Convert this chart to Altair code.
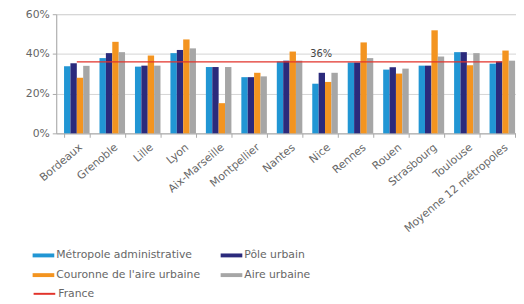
import altair as alt
import pandas as pd

cities = ["Bordeaux", "Grenoble", "Lille", "Lyon", "Aix-Marseille", "Montpellier",
          "Nantes", "Nice", "Rennes", "Rouen", "Strasbourg", "Toulouse",
          "Moyenne 12 métropoles"]
series = ["Métropole administrative", "Pôle urbain", "Couronne de l'aire urbaine", "Aire urbaine"]
metropole = [33.8, 37.9, 33.6, 40.4, 33.4, 28.3, 36.2, 25.0, 35.7, 32.1, 34.1, 40.9, 35.1]
pole =      [35.3, 40.4, 34.1, 42.0, 33.4, 28.3, 36.6, 30.5, 35.7, 33.3, 34.1, 40.9, 36.2]
couronne =  [28.0, 46.1, 39.2, 47.3, 15.2, 30.5, 41.2, 25.9, 45.8, 30.1, 51.9, 34.3, 41.7]
aire =      [34.0, 40.9, 34.1, 42.8, 33.4, 28.7, 36.6, 30.5, 37.9, 32.6, 38.7, 40.4, 36.6]
france = 36
colors = ["#2196d4", "#2b2a7c", "#f39420", "#a6a6a6"]
font = "DejaVu Sans"
txtcol = "#666"

rows = []
for s, vals in zip(series, [metropole, pole, couronne, aire]):
    for c, v in zip(cities, vals):
        rows.append({"city": c, "series": s, "value": v})
bars_df = pd.DataFrame(rows)
line_df = pd.DataFrame({"city": cities, "value": [france] * len(cities), "label": ["France"] * len(cities)})
text_df = pd.DataFrame({"city": ["Nice"], "value": [france], "txt": ["36%"]})

xscale = alt.Scale(domain=cities, range=[0, 474], paddingInner=0.28, paddingOuter=0.22)
yscale = alt.Scale(domain=[0, 60])

xaxis = alt.Axis(title=None, labelAngle=-40, labelFont=font, labelFontSize=11, labelColor=txtcol,
                 tickBand="extent", tickSize=4, tickColor="#aaa", domainColor="#aaa",
                 labelPadding=4, grid=False, labelOverlap=False)
yaxis = alt.Axis(title=None, values=[0, 10, 20, 30, 40, 50, 60], labelExpr="datum.value + '%'",
                 labelFont=font, labelFontSize=11, labelColor=txtcol, tickSize=4, tickColor="#aaa",
                 domainColor="#aaa", gridColor="#d4d4d4", labelPadding=3)

bars = alt.Chart(bars_df).mark_bar().encode(
    x=alt.X("city:N", scale=xscale, axis=xaxis, sort=cities),
    xOffset=alt.XOffset("series:N", sort=series, scale=alt.Scale(paddingInner=0, paddingOuter=0)),
    y=alt.Y("value:Q", scale=yscale, axis=yaxis),
    color=alt.Color("series:N", sort=series,
                    scale=alt.Scale(domain=series, range=colors),
                    legend=alt.Legend(title=None, orient="none", legendX=-24, legendY=234,
                                      direction="horizontal",
                                      columns=2, columnPadding=20, rowPadding=4,
                                      symbolType="M-1,-0.18H1V0.18H-1Z", symbolSize=484,
                                      symbolStrokeWidth=0, labelFont=font, labelFontSize=11,
                                      labelColor=txtcol, labelOffset=2)),
)

line = alt.Chart(line_df).mark_line(strokeWidth=1.5).encode(
    x=alt.X("city:N", scale=xscale, sort=cities),
    y=alt.Y("value:Q", scale=yscale),
    stroke=alt.Stroke("label:N", scale=alt.Scale(domain=["France"], range=["#e2332b"]),
                      legend=alt.Legend(title=None, orient="none", legendX=-24, legendY=272,
                                        symbolType="stroke", symbolSize=484, symbolStrokeWidth=2,
                                        labelFont=font, labelFontSize=11, labelColor=txtcol,
                                        labelOffset=2)),
)

text = alt.Chart(text_df).mark_text(font=font, fontSize=10, color="#444", dy=-8, dx=-4).encode(
    x=alt.X("city:N", scale=xscale, sort=cities),
    y=alt.Y("value:Q", scale=yscale),
    text="txt:N",
)

chart = alt.layer(bars, line, text).properties(
    width=467, height=121,
    autosize=alt.AutoSizeParams(type="none"),
    padding={"left": 49, "top": 4, "right": 0, "bottom": 170},
).configure_view(stroke=None).configure(background="white")

chart.save("out.html", embed_options={"renderer": "svg", "actions": False})
